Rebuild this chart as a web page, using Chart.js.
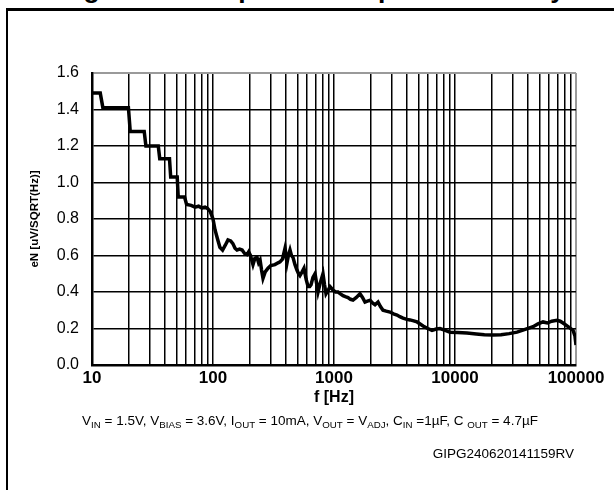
<!DOCTYPE html>
<html>
<head>
<meta charset="utf-8">
<script src="https://cdn.jsdelivr.net/npm/chart.js@4"></script>
<style>
    html, body { margin: 0; padding: 0; background: #fff; overflow: hidden; }
    #page { position: relative; width: 614px; height: 490px; overflow: hidden; font-family: "Liberation Sans", Arial, sans-serif; }
    #frame { position: absolute; left: 6px; top: 8px; width: 640px; height: 500px; border-left: 2.5px solid #000; border-top: 3px solid #000; }
    #figTitle { position: absolute; left: 60px; top: -26px; font-size: 26.5px; line-height: 30px; font-weight: bold; white-space: nowrap; }
    #chart { position: absolute; left: 0; top: 0; }
    #cond { position: absolute; left: 0; width: 620px; top: 413px; text-align: center; font-size: 13.5px; white-space: nowrap; }
    #cond sub { font-size: 0.72em; vertical-align: -0.35em; line-height: 0; }
    #code { position: absolute; right: 40px; top: 446px; font-size: 13.5px; white-space: nowrap; }
</style>
</head>
<body>
<div id="page">
    <div id="figTitle">Figure 13. Output noise spectral density</div>
    <div id="frame"></div>
    <canvas id="chart" width="614" height="490"></canvas>
    <div id="cond">V<sub>IN</sub> = 1.5V, V<sub>BIAS</sub> = 3.6V, I<sub>OUT</sub> = 10mA, V<sub>OUT</sub> = V<sub>ADJ</sub>, C<sub>IN</sub> =1µF, C <sub>OUT</sub> = 4.7µF</div>
    <div id="code">GIPG240620141159RV</div>
</div>
<script>
// Output noise spectral density

// frequency in Hz
const freqHz = [
    10, 11.7, 12.3, 20.0, 20.7, 27.0, 27.9, 35.3, 36.3, 43.7,
    44.7, 50.6, 51.6, 58.2, 60.5, 66, 71, 76, 81, 86,
    90, 95, 100, 104, 109, 114, 120, 126, 133, 140,
    146, 152, 158, 166, 174, 183, 191, 197, 204, 214,
    222, 231, 238, 245, 252, 259, 270, 285, 300, 325,
    345, 358, 375, 394, 409, 420, 433, 445, 458, 476,
    494, 510, 523, 545, 565, 588, 610, 630, 646, 670,
    697, 717, 738, 770, 811, 835, 859, 895, 927, 955,
    982, 1030, 1080, 1130, 1187, 1240, 1305, 1370, 1436, 1530,
    1640, 1720, 1804, 1890, 1984, 2080, 2183, 2311, 2420, 2541,
    2700, 2904, 3100, 3319, 3500, 3718, 4000, 4249, 4550, 4856,
    5150, 5445, 5950, 6459, 7000, 7520, 8300, 9100, 10500, 12570,
    15000, 17500, 20600, 24000, 28000, 32550, 38000, 44150, 48500, 53400,
    58000, 63000, 69700, 74000, 78100, 86000, 94500, 98000, 100000
];

// eN in uV/sqrt(Hz)
const noiseDensity = [
    1.49, 1.49, 1.41, 1.41, 1.28, 1.28, 1.20, 1.20, 1.13, 1.13,
    1.03, 1.03, 0.92, 0.92, 0.88, 0.875, 0.865, 0.87, 0.86, 0.865,
    0.858, 0.84, 0.80, 0.74, 0.69, 0.645, 0.63, 0.655, 0.685, 0.68,
    0.665, 0.64, 0.63, 0.635, 0.63, 0.61, 0.605, 0.62, 0.60, 0.55,
    0.585, 0.59, 0.56, 0.575, 0.52, 0.475, 0.51, 0.53, 0.545, 0.55,
    0.56, 0.565, 0.58, 0.64, 0.56, 0.60, 0.63, 0.60, 0.59, 0.55,
    0.52, 0.50, 0.49, 0.51, 0.53, 0.47, 0.43, 0.43, 0.44, 0.48,
    0.50, 0.45, 0.40, 0.45, 0.50, 0.44, 0.39, 0.41, 0.43, 0.42,
    0.41, 0.40, 0.40, 0.39, 0.38, 0.375, 0.37, 0.36, 0.356, 0.37,
    0.39, 0.37, 0.345, 0.35, 0.355, 0.34, 0.33, 0.345, 0.32, 0.30,
    0.295, 0.29, 0.28, 0.274, 0.265, 0.257, 0.25, 0.247, 0.242, 0.236,
    0.225, 0.214, 0.20, 0.19, 0.197, 0.20, 0.19, 0.18, 0.178, 0.175,
    0.17, 0.166, 0.164, 0.166, 0.172, 0.18, 0.195, 0.21, 0.225, 0.236,
    0.23, 0.24, 0.245, 0.24, 0.23, 0.21, 0.19, 0.16, 0.11
];

// axis ticks
const decadeLabels = ['10', '100', '1000', '10000', '100000'];
const minorSteps = [1, 2, 3, 4, 5, 6, 7, 8, 9];
const yTickValues = [0, 0.2, 0.4, 0.6, 0.8, 1.0, 1.2, 1.4, 1.6];

const X_MIN = 10;
const X_MAX = 100000;
const Y_MAX = 1.6;

// gridline positions: 1..9 per decade, plus the last decade
const xGridValues = [];
decadeLabels.slice(0, -1).forEach(d => {
    minorSteps.forEach(m => xGridValues.push(Number(d) * m));
});
xGridValues.push(X_MAX);

const edgeGrey = '#9a9a9a';

new Chart(document.getElementById('chart').getContext('2d'), {
    type: 'line',
    data: {
        datasets: [{
            data: freqHz.map((f, i) => ({ x: f, y: noiseDensity[i] })),
            borderColor: '#000',
            borderWidth: 3.5,
            pointRadius: 0,
            tension: 0,
            fill: false
        }]
    },
    options: {
        responsive: false,
        animation: false,
        devicePixelRatio: 1,
        layout: { padding: { top: 73, right: 38, left: 0, bottom: 84 } },
        plugins: {
            legend: { display: false },
            tooltip: { enabled: false }
        },
        scales: {
            x: {
                type: 'logarithmic',
                min: X_MIN,
                max: X_MAX,
                afterBuildTicks: scale => {
                    scale.ticks = xGridValues.map(v => ({ value: v }));
                },
                afterFit: scale => { scale.height = 41; },
                grid: {
                    drawTicks: false,
                    color: c => (c.tick && c.tick.value === X_MAX ? edgeGrey : '#000'),
                    lineWidth: c => (c.tick && c.tick.value === X_MAX ? 2 : 1.5)
                },
                border: { display: true, color: '#000', width: 2.5 },
                ticks: {
                    autoSkip: false,
                    maxRotation: 0,
                    padding: 5,
                    color: '#000',
                    font: { family: '"Liberation Sans", Arial, sans-serif', size: 17, weight: 'bold', lineHeight: 1 },
                    callback: value => {
                        const s = String(Math.round(value));
                        return decadeLabels.includes(s) ? s : '';
                    }
                },
                title: {
                    display: true,
                    text: 'f [Hz]',
                    color: '#000',
                    padding: 0,
                    font: { family: '"Liberation Sans", Arial, sans-serif', size: 16, weight: 'bold', lineHeight: 1 }
                }
            },
            y: {
                type: 'linear',
                min: 0,
                max: Y_MAX,
                afterBuildTicks: scale => {
                    scale.ticks = yTickValues.map(v => ({ value: v }));
                },
                afterFit: scale => { scale.width = 92; },
                grid: {
                    drawTicks: false,
                    color: c => (c.tick && c.tick.value === Y_MAX ? edgeGrey : '#000'),
                    lineWidth: c => (c.tick && c.tick.value === Y_MAX ? 2 : 1.5)
                },
                border: { display: true, color: '#000', width: 2.5 },
                ticks: {
                    padding: 13,
                    color: '#000',
                    font: { family: '"Liberation Sans", Arial, sans-serif', size: 16 },
                    callback: value => value.toFixed(1)
                },
                title: {
                    display: true,
                    text: 'eN [uV/SQRT(Hz)]',
                    color: '#000',
                    padding: { top: 29, bottom: 0 },
                    font: { family: '"Liberation Sans", Arial, sans-serif', size: 11.5, weight: 'bold', lineHeight: 1 }
                }
            }
        }
    }
});
</script>
</body>
</html>
